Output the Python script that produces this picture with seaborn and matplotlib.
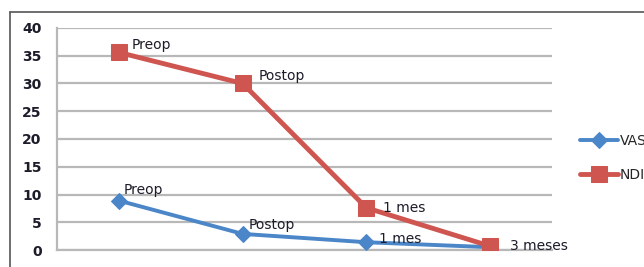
import matplotlib
matplotlib.use("Agg")
import matplotlib.pyplot as plt
import seaborn as sns
import pandas as pd
from matplotlib.lines import Line2D

categories = ["Preop", "Postop", "1 mes", "3 meses"]
vas = [8.9, 2.9, 1.4, 0.5]
ndi = [35.6, 30.0, 7.6, 0.7]
yticks = [0, 5, 10, 15, 20, 25, 30, 35, 40]

colors = {"VAS": "#4a86c8", "NDI": "#cf5650"}
markers = {"VAS": "D", "NDI": "s"}

df = pd.DataFrame({
    "x": list(range(len(categories))) * 2,
    "value": vas + ndi,
    "serie": ["VAS"] * len(vas) + ["NDI"] * len(ndi),
})

sns.set_style("white")
plt.rcParams["font.family"] = ["DejaVu Sans"]

fig = plt.figure(figsize=(6.44, 2.67), dpi=100)
ax = fig.add_axes([57/644, 1 - 250/267, (552-57)/644, (250-28)/267])

for name, lw, ms in [("VAS", 2.8, 8.5), ("NDI", 3.5, 11)]:
    sub = df[df["serie"] == name]
    sns.lineplot(data=sub, x="x", y="value", ax=ax, color=colors[name],
                 marker=markers[name], markersize=ms, linewidth=lw,
                 markeredgecolor=colors[name], label=name, zorder=3)

ax.set_xlim(-0.5, len(categories) - 0.5)
ax.set_ylim(0, 40)
ax.set_yticks(yticks)
ax.set_yticklabels([str(t) for t in yticks], fontsize=10, fontweight="bold", color="#1c1c2a")
ax.set_xticks([])
ax.set_xlabel("")
ax.set_ylabel("")
ax.tick_params(axis="y", length=0, pad=11)
ax.yaxis.grid(True, color="#b8b8b8", linewidth=1.6)
ax.set_axisbelow(True)
for side in ["top", "right"]:
    ax.spines[side].set_visible(False)
for side in ["left", "bottom"]:
    ax.spines[side].set_color("#b8b8b8")
    ax.spines[side].set_linewidth(1.6)

offsets_ndi = [(13, 7), (16, 7), (17, 0), (20, 0)]
offsets_vas = [(5, 11), (6, 9), (13, 3), (20, 0)]
for i, lab in enumerate(categories):
    ax.annotate(lab, (i, ndi[i]), xytext=offsets_ndi[i], textcoords="offset pixels",
                ha="left", va="center", fontsize=10, color="#1c1c2a", zorder=5)
    if i < 3:
        ax.annotate(lab, (i, vas[i]), xytext=offsets_vas[i], textcoords="offset pixels",
                    ha="left", va="center", fontsize=10, color="#1c1c2a", zorder=5)

ax.legend(loc="center left", bbox_to_anchor=(580/644, 1 - 158/267), bbox_transform=fig.transFigure,
          frameon=False, fontsize=10, handlelength=2.7, labelspacing=1.4,
          borderaxespad=0, borderpad=0, handletextpad=0.15)

fig.add_artist(Line2D([10/644, 1], [1 - 12/267, 1 - 12/267], transform=fig.transFigure,
                      color="#555555", linewidth=1.2))
fig.add_artist(Line2D([10/644, 10/644], [0, 1 - 12/267], transform=fig.transFigure,
                      color="#555555", linewidth=1.2))

fig.savefig("out.png", dpi=100)
